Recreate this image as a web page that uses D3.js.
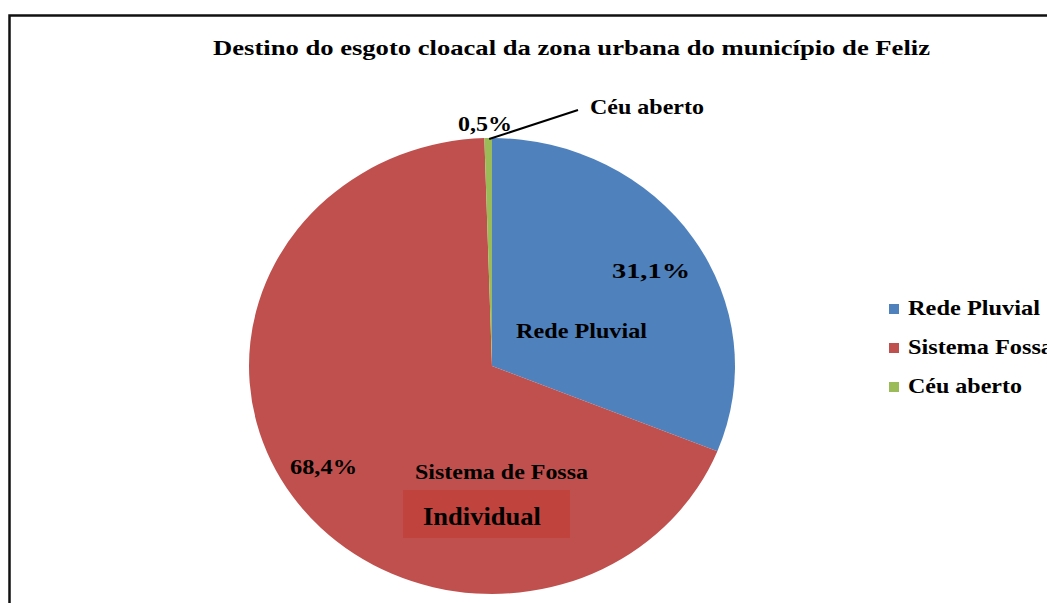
<!DOCTYPE html>
<html><head><meta charset="utf-8">
<script src="https://cdn.jsdelivr.net/npm/d3@7"></script>
<style>html,body{margin:0;padding:0;background:#fff;overflow:hidden}
text{font-family:"Liberation Serif","Times New Roman",Times,serif;font-weight:bold}</style>
</head><body>
<svg id="c" width="1047" height="603"></svg>
<script>
const categories = ["Rede Pluvial", "Sistema Fossa", "Céu aberto"];
const values = [31.1, 68.4, 0.5];
const pctLabels = ["31,1%", "68,4%", "0,5%"];
const colors = ["#4F81BD", "#C0504D", "#9BBB59"];
const title = "Destino do esgoto cloacal da zona urbana do município de Feliz";

const svg = d3.select("#c");

// frame
svg.append("rect").attr("x", 9.5).attr("y", 15.5).attr("width", 1100).attr("height", 700)
  .attr("fill", "#fff").attr("stroke", "#111").attr("stroke-width", 2.5);

function txt(s, x, y, size, len) {
  return svg.append("text").attr("x", x).attr("y", y).text(s)
    .attr("font-size", size)
    .attr("fill", "#000").attr("textLength", len).attr("lengthAdjust", "spacingAndGlyphs");
}

txt(title, 213, 55, 22, 717);

const cx = 492, cy = 366, rx = 243, ry = 228;
const pie = d3.pie().sort(null).value(d => d)(values);
const arc = d3.arc().innerRadius(0).outerRadius(rx);
const g = svg.append("g").attr("transform", `translate(${cx},${cy}) scale(1,${ry / rx})`);
g.selectAll("path").data(pie).join("path")
  .attr("d", arc).attr("fill", (d, i) => colors[i]);

// leader line for small slice
const mid = (pie[2].startAngle + pie[2].endAngle) / 2;
const px = cx + rx * Math.sin(mid), py = cy - ry * Math.cos(mid);
svg.append("line").attr("x1", px + 1).attr("y1", py + 1).attr("x2", 578).attr("y2", 110)
  .attr("stroke", "#000").attr("stroke-width", 2);

txt("Céu aberto", 590, 114, 21, 114);
txt(pctLabels[2], 458, 131, 21, 54);
txt(pctLabels[0], 612, 278, 21, 78);
txt("Rede Pluvial", 516, 338, 21, 131);
txt(pctLabels[1], 290, 474, 21, 67);
txt("Sistema de Fossa", 415, 479, 21, 173);

svg.append("rect").attr("x", 403).attr("y", 490).attr("width", 167).attr("height", 48)
  .attr("fill", "#C1433D");
txt("Individual", 423, 525, 26, 118);

// legend
const lg = svg.append("g");
categories.forEach((c, i) => {
  const y = 304 + i * 39;
  lg.append("rect").attr("x", 889).attr("y", y).attr("width", 10).attr("height", 10).attr("fill", colors[i]);
});
txt(categories[0], 908, 315, 21, 132);
txt(categories[1], 908, 354, 21, 145);
txt(categories[2], 908, 393, 21, 114);
</script>
</body></html>
